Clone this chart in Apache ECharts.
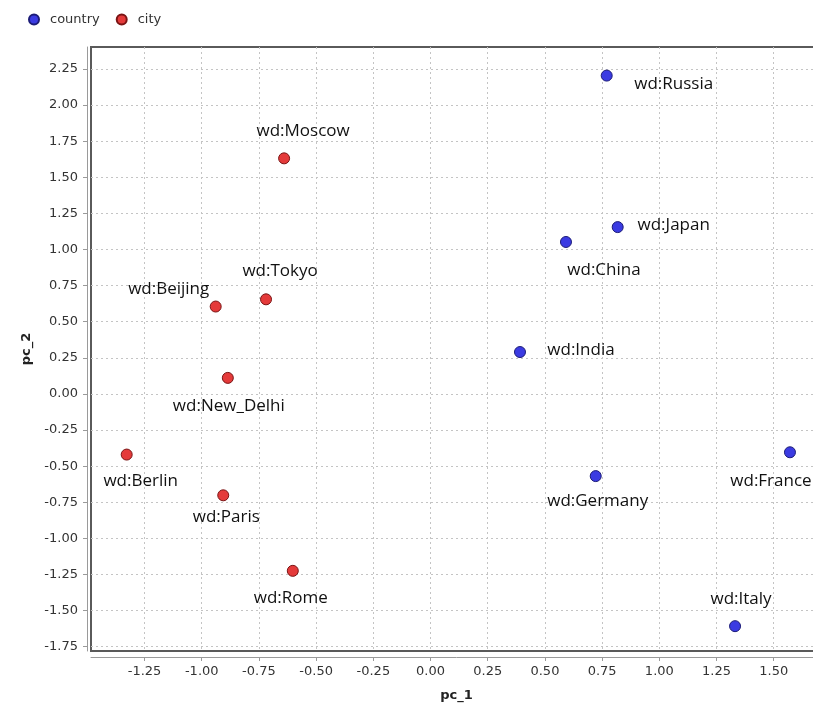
<!DOCTYPE html>
<html>
<head>
<meta charset="utf-8">
<script src="https://cdn.jsdelivr.net/npm/echarts@6/dist/echarts.min.js"></script>
<style>
  html, body { margin: 0; padding: 0; background: #fff; overflow: hidden; }
  /* plot area runs slightly past the right edge of the window */
  #chart { width: 822px; height: 707px; }
</style>
</head>
<body>
<div id="chart"></div>
<script>
// PCA projection of countries and their capital-ish cities
const countryNames = ['wd:Russia', 'wd:Japan', 'wd:China', 'wd:India', 'wd:Germany', 'wd:France', 'wd:Italy'];
const countryPc1   = [0.770, 0.818, 0.592, 0.391, 0.722, 1.571, 1.331];
const countryPc2   = [2.204, 1.155, 1.052, 0.290, -0.569, -0.404, -1.608];

const cityNames = ['wd:Moscow', 'wd:Tokyo', 'wd:Beijing', 'wd:New_Delhi', 'wd:Berlin', 'wd:Paris', 'wd:Rome'];
const cityPc1   = [-0.640, -0.719, -0.939, -0.886, -1.328, -0.906, -0.602];
const cityPc2   = [1.631, 0.655, 0.605, 0.111, -0.420, -0.702, -1.225];

const pc1Ticks = [-1.25, -1.0, -0.75, -0.5, -0.25, 0, 0.25, 0.5, 0.75, 1.0, 1.25, 1.5];
const pc2Ticks = [-1.75, -1.5, -1.25, -1.0, -0.75, -0.5, -0.25, 0, 0.25, 0.5, 0.75, 1.0, 1.25, 1.5, 1.75, 2.0, 2.25];

// where each name sits relative to its marker (label centre offset, px)
const labelOffsets = {
  'wd:Russia': [67, 9], 'wd:Japan': [56, -2], 'wd:China': [38, 28], 'wd:India': [61, -2],
  'wd:Germany': [2, 25], 'wd:France': [-19, 29], 'wd:Italy': [6, -27],
  'wd:Moscow': [19, -27], 'wd:Tokyo': [14, -28], 'wd:Beijing': [-47, -17], 'wd:New_Delhi': [1, 28],
  'wd:Berlin': [14, 27], 'wd:Paris': [3, 22], 'wd:Rome': [-2, 27]
};

function points(names, xs, ys) {
  return names.map((n, i) => ({
    name: n,
    value: [xs[i], ys[i]],
    label: { offset: labelOffsets[n] }
  }));
}

const tickFont = { fontFamily: 'DejaVu Sans', fontSize: 13, color: '#333' };
const gridLine = { show: true, lineStyle: { color: '#c4c4c4', type: [2, 3], width: 1 } };

const chart = echarts.init(document.getElementById('chart'));
chart.setOption({
  backgroundColor: '#fff',
  animation: false,
  legend: {
    left: 23, top: 8,
    icon: 'circle', itemWidth: 10, itemHeight: 10, itemGap: 16,
    textStyle: { fontFamily: 'DejaVu Sans', fontSize: 13, color: '#333', padding: [0, 0, 0, 6] },
    data: ['country', 'city']
  },
  grid: {
    left: 91, top: 47, bottom: 52, right: 0,
    show: true, borderColor: '#5a5a5a', borderWidth: 2, backgroundColor: '#fff'
  },
  xAxis: {
    type: 'value', min: -1.484, max: 1.711, offset: 6,
    name: 'pc_1', nameLocation: 'middle', nameGap: 32,
    nameTextStyle: { fontFamily: 'DejaVu Sans', fontSize: 13, fontWeight: 'bold', color: '#222' },
    axisLine: { show: true, onZero: false, lineStyle: { color: '#9a9a9a', width: 1 } },
    axisTick: { show: true, length: 4, lineStyle: { color: '#9a9a9a' }, customValues: pc1Ticks },
    axisLabel: Object.assign({ margin: 8, customValues: pc1Ticks, formatter: v => v.toFixed(2) }, tickFont),
    splitLine: Object.assign({ customValues: pc1Ticks }, gridLine)
  },
  yAxis: {
    type: 'value', min: -1.780, max: 2.402, offset: 4,
    name: 'pc_2', nameLocation: 'middle', nameGap: 53, nameRotate: 90,
    nameTextStyle: { fontFamily: 'DejaVu Sans', fontSize: 13, fontWeight: 'bold', color: '#222' },
    axisLine: { show: true, onZero: false, lineStyle: { color: '#9a9a9a', width: 1 } },
    axisTick: { show: true, length: 4, lineStyle: { color: '#9a9a9a' }, customValues: pc2Ticks },
    axisLabel: Object.assign({ margin: 9, customValues: pc2Ticks, formatter: v => v.toFixed(2) }, tickFont),
    splitLine: Object.assign({ customValues: pc2Ticks }, gridLine)
  },
  series: [
    {
      name: 'country', type: 'scatter', symbol: 'circle', symbolSize: 11,
      itemStyle: { color: '#3b3be2', borderColor: '#1c1c78', borderWidth: 1, opacity: 1 },
      label: {
        show: true, position: 'inside', formatter: p => p.name,
        fontFamily: 'Open Sans', fontSize: 17, color: '#111'
      },
      data: points(countryNames, countryPc1, countryPc2)
    },
    {
      name: 'city', type: 'scatter', symbol: 'circle', symbolSize: 11,
      itemStyle: { color: '#e43a3a', borderColor: '#7a1414', borderWidth: 1, opacity: 1 },
      label: {
        show: true, position: 'inside', formatter: p => p.name,
        fontFamily: 'Open Sans', fontSize: 17, color: '#111'
      },
      data: points(cityNames, cityPc1, cityPc2)
    }
  ]
});
</script>
</body>
</html>
